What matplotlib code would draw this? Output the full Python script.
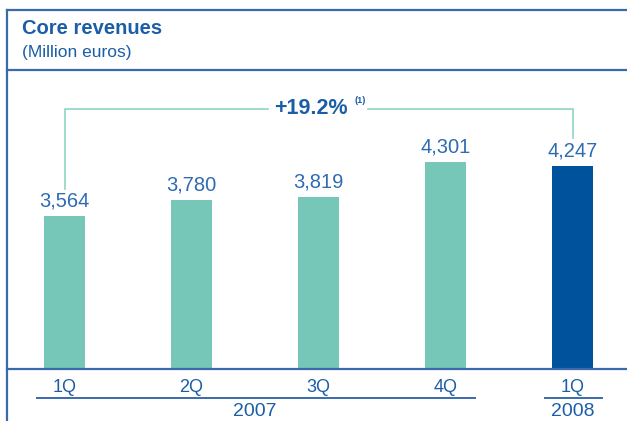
import matplotlib
matplotlib.use("Agg")
import matplotlib.pyplot as plt
import matplotlib.transforms as mtransforms
from matplotlib.lines import Line2D

# Data
quarters = ["1Q", "2Q", "3Q", "4Q", "1Q"]
years = ["2007", "2008"]
year_spans = [(0, 3), (4, 4)]
revenues = [3564, 3780, 3819, 4301, 4247]
growth_label = "+19.2%"

teal = "#76c7b8"
dark_blue = "#00529c"
text_blue = "#1b5ea7"
value_blue = "#2e6bb3"
frame_blue = "#3a6aad"
bracket_teal = "#8fd4c5"

plt.rcParams["font.family"] = ["Liberation Sans", "DejaVu Sans"]

W, H = 627, 421
fig = plt.figure(figsize=(W / 100, H / 100), dpi=100)

def fx(px):
    return px / W

def fy(py):
    return 1 - py / H

# frame lines (top, separator, left)
fig.add_artist(Line2D([fx(7), 1], [fy(10), fy(10)], color=frame_blue, lw=1.6))
fig.add_artist(Line2D([fx(7), 1], [fy(70), fy(70)], color=frame_blue, lw=1.6))
fig.add_artist(Line2D([fx(7), fx(7)], [fy(10), 0], color=frame_blue, lw=1.6))

# titles
fig.text(fx(22), fy(28), "Core revenues", fontsize=14.5, fontweight="bold",
         color=text_blue, va="center", ha="left")
fig.text(fx(22), fy(52), "(Million euros)", fontsize=12.5,
         color=text_blue, va="center", ha="left")

ax = fig.add_axes([fx(7), fy(369), fx(627) - fx(7), fy(70) - fy(369)])
x = list(range(len(revenues)))
colors = [teal] * 4 + [dark_blue]
ax.bar(x, revenues, width=0.315, color=colors, zorder=2)

ax.set_xlim((7 - 64.5) / 127, (627 - 64.5) / 127)
ax.set_ylim(1477, 5556)

for s in ["top", "right", "left"]:
    ax.spines[s].set_visible(False)
ax.spines["bottom"].set_color(frame_blue)
ax.spines["bottom"].set_linewidth(1.6)
ax.set_yticks([])
ax.set_xticks(x)
ax.set_xticklabels(quarters, fontsize=13, color=text_blue)
ax.tick_params(axis="x", length=0, pad=7)

# value labels
for xi, v in zip(x, revenues):
    ax.annotate(f"{v:,}", (xi, v), xytext=(0, 4), textcoords="offset points",
                ha="center", va="bottom", fontsize=14.5, color=value_blue)

# growth bracket between first and last bar
top = 5024
gap_l, gap_r = 1.6, 2.39
ax.plot([0, 0, gap_l], [revenues[0] + 370, top, top], color=bracket_teal, lw=1.2)
ax.plot([gap_r, 4, 4], [top, top, revenues[-1] + 380], color=bracket_teal, lw=1.2)
ax.text(1.94, top, growth_label, ha="center", va="center", fontsize=15.5,
        fontweight="bold", color=text_blue)
ax.text(2.33, top + 110, "(1)", ha="center", va="center", fontsize=6.5,
        fontweight="bold", color=text_blue)

# year groups below the quarter labels
trans = mtransforms.blended_transform_factory(ax.transData, ax.transAxes)
for yr, (a, b) in zip(years, year_spans):
    ax.plot([a - 0.217, b + 0.232], [-0.097, -0.097], color=frame_blue, lw=1.4,
            transform=trans, clip_on=False)
    ax.text((a + b) / 2, -0.141, yr, ha="center", va="center", fontsize=14,
            color=text_blue, transform=trans)

fig.savefig("out.png", dpi=100)
